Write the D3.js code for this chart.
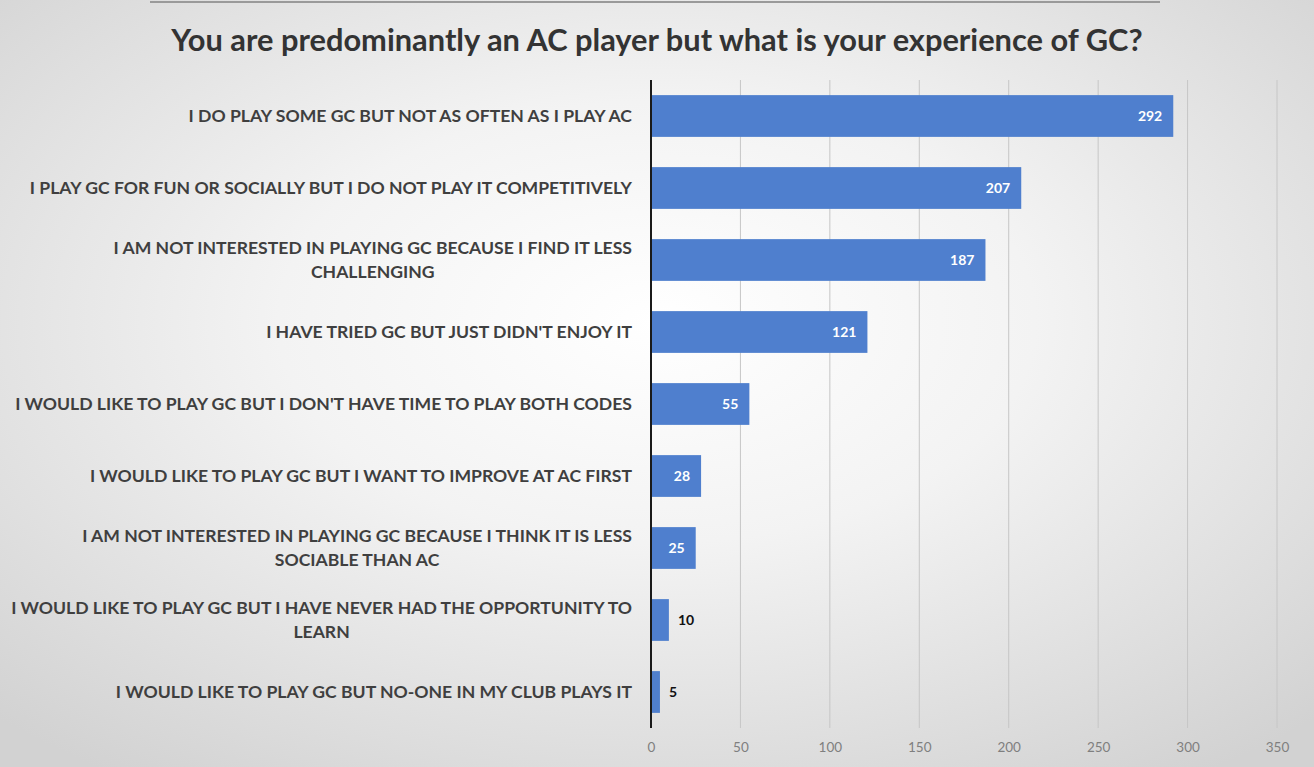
<!DOCTYPE html>
<html><head><meta charset="utf-8">
<script src="https://cdn.jsdelivr.net/npm/d3@7"></script>
<style>html,body{margin:0;padding:0;background:#fff;}svg{display:block;}</style>
</head><body>
<svg id="chart" width="1314" height="767"></svg>
<script>
const title = "You are predominantly an AC player but what is your experience of GC?";
const categories = [
  ["I DO PLAY SOME GC BUT NOT AS OFTEN AS I PLAY AC"],
  ["I PLAY GC FOR FUN OR SOCIALLY BUT I DO NOT PLAY IT COMPETITIVELY"],
  ["I AM NOT INTERESTED IN PLAYING GC BECAUSE I FIND IT LESS", "CHALLENGING"],
  ["I HAVE TRIED GC BUT JUST DIDN'T ENJOY IT"],
  ["I WOULD LIKE TO PLAY GC BUT I DON'T HAVE TIME TO PLAY BOTH CODES"],
  ["I WOULD LIKE TO PLAY GC BUT I WANT TO IMPROVE AT AC FIRST"],
  ["I AM NOT INTERESTED IN PLAYING GC BECAUSE I THINK IT IS LESS", "SOCIABLE THAN AC"],
  ["I WOULD LIKE TO PLAY GC BUT I HAVE NEVER HAD THE OPPORTUNITY TO", "LEARN"],
  ["I WOULD LIKE TO PLAY GC BUT NO-ONE IN MY CLUB PLAYS IT"]
];
const values = [292, 207, 187, 121, 55, 28, 25, 10, 5];
const xTicks = [0, 50, 100, 150, 200, 250, 300, 350];

const svg = d3.select("#chart");
const W = 1314, H = 767;
const defs = svg.append("defs");
const rg = defs.append("radialGradient").attr("id","bg").attr("cx","50%").attr("cy","42%").attr("r","72%");
rg.append("stop").attr("offset","0%").attr("stop-color","#ffffff");
rg.append("stop").attr("offset","40%").attr("stop-color","#f3f3f3");
rg.append("stop").attr("offset","100%").attr("stop-color","#d2d2d2");
svg.append("rect").attr("width",W).attr("height",H).attr("fill","url(#bg)");
svg.append("line").attr("x1",150).attr("x2",1160).attr("y1",2).attr("y2",2).attr("stroke","#9a9a9a").attr("stroke-width",2);

const ids = categories.map((c,i)=>i);
const x = d3.scaleLinear().domain([0,350]).range([651,1277]);
const y = d3.scaleBand().domain(ids).range([80,728]).paddingInner(0.42).paddingOuter(0.21);

// gridlines
svg.append("g").selectAll("line").data(xTicks.slice(1)).join("line")
  .attr("x1",d=>x(d)).attr("x2",d=>x(d)).attr("y1",80).attr("y2",728)
  .attr("stroke","#c6c6c6").attr("stroke-width",1);

// x axis labels
const xa = svg.append("g").attr("transform","translate(0,728)")
  .call(d3.axisBottom(x).tickValues(xTicks).tickSize(0).tickPadding(14));
xa.select(".domain").remove();
xa.selectAll("text").attr("font-family","Lato, 'Open Sans', sans-serif").attr("font-size",13.5).attr("fill","#7f7f7f");

// bars
svg.append("g").selectAll("rect").data(values).join("rect")
  .attr("x",x(0)).attr("y",(d,i)=>y(i)).attr("width",d=>x(d)-x(0)).attr("height",y.bandwidth())
  .attr("fill","#4f7fce");

// y axis line
const ya = svg.append("g").attr("transform",`translate(${x(0)},0)`)
  .call(d3.axisLeft(y).tickSize(0).tickFormat(""));
ya.select(".domain").attr("stroke","#1a1a1a").attr("stroke-width",2).attr("d","M0,80V728");

// value labels
svg.append("g").selectAll("text").data(values).join("text")
  .attr("x",d=> d>=20 ? x(d)-11 : x(d)+9)
  .attr("y",(d,i)=>y(i)+y.bandwidth()/2)
  .attr("dy","0.35em")
  .attr("text-anchor",d=> d>=20 ? "end" : "start")
  .attr("font-family","Lato, 'Open Sans', sans-serif").attr("font-weight","bold").attr("font-size",14)
  .attr("fill",d=> d>=20 ? "#ffffff" : "#111111")
  .text(d=>d);

// category labels
const lab = svg.append("g");
const lineH = 24;
categories.forEach((lines,i)=>{
  const cy = y(i)+y.bandwidth()/2;
  const g = lab.append("g");
  const ts = lines.map((ln,j)=> g.append("text")
    .attr("y", cy + (j - (lines.length-1)/2)*lineH)
    .attr("dy","0.36em")
    .attr("font-family","Lato, 'Open Sans', sans-serif").attr("font-weight","bold").attr("font-size",17.6)
    .attr("fill","#3f3f3f").attr("text-anchor","middle").text(ln));
  const ws = ts.map(t=>t.node().getComputedTextLength());
  const bw = d3.max(ws);
  ts.forEach(t=>t.attr("x", 632 - bw/2));
});

// title
svg.append("text").attr("x",657).attr("y",40).attr("dy","0.35em").attr("text-anchor","middle")
  .attr("font-family","Lato, 'Open Sans', sans-serif").attr("font-weight","bold").attr("font-size",30.8)
  .attr("fill","#333333").text(title);
</script>
</body></html>
